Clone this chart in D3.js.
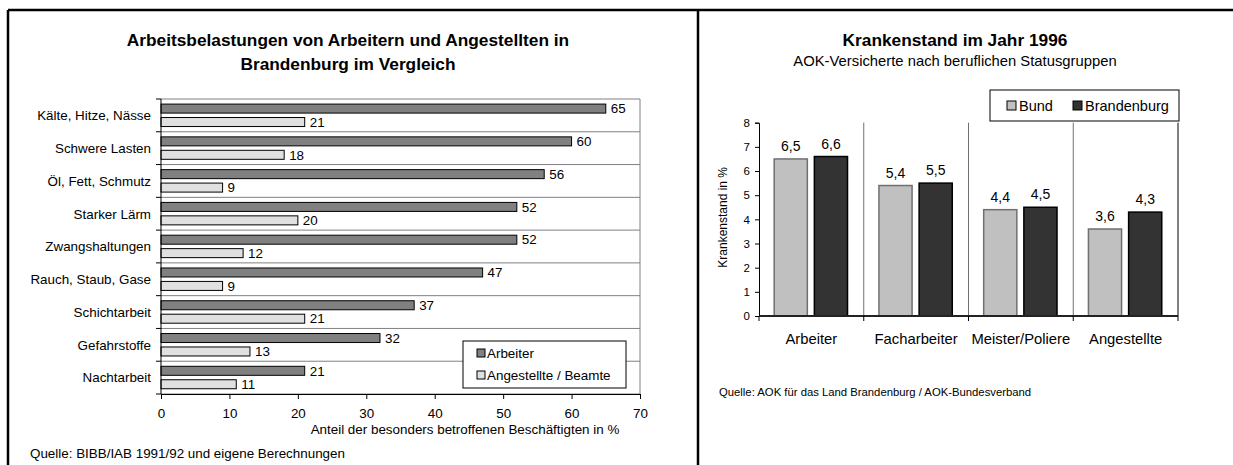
<!DOCTYPE html>
<html>
<head>
<meta charset="utf-8">
<script src="https://cdn.jsdelivr.net/npm/d3@7"></script>
<style>
  html, body { margin: 0; padding: 0; background: #fff; }
  svg { display: block; font-family: "Liberation Sans", Arial, sans-serif; }
</style>
</head>
<body>
<svg id="chart" width="1233" height="465"></svg>
<script>
// ---- Left chart: workload by occupational status ----
const belastungen = ["Kälte, Hitze, Nässe", "Schwere Lasten", "Öl, Fett, Schmutz", "Starker Lärm",
  "Zwangshaltungen", "Rauch, Staub, Gase", "Schichtarbeit", "Gefahrstoffe", "Nachtarbeit"];
const arbeiterWerte = [65, 60, 56, 52, 52, 47, 37, 32, 21];
const angestellteWerte = [21, 18, 9, 20, 12, 9, 21, 13, 11];
const leftSeries = ["Arbeiter", "Angestellte / Beamte"];
const leftTicks = [0, 10, 20, 30, 40, 50, 60, 70];

// ---- Right chart: sick leave 1996 ----
const statusGruppen = ["Arbeiter", "Facharbeiter", "Meister/Poliere", "Angestellte"];
const bundWerte = [6.5, 5.4, 4.4, 3.6];
const brandenburgWerte = [6.6, 5.5, 4.5, 4.3];
const rightSeries = ["Bund", "Brandenburg"];
const rightTicks = [0, 1, 2, 3, 4, 5, 6, 7, 8];

const svg = d3.select("#chart");
const fmtComma = d => d.toFixed(1).replace(".", ",");
const FONT = "Liberation Sans, Arial, sans-serif";

// Outer frame
const frame = svg.append("g").attr("stroke", "#000").attr("stroke-width", 2.5);
frame.append("line").attr("x1", 8).attr("x2", 1233).attr("y1", 10).attr("y2", 10);
frame.append("line").attr("x1", 8).attr("x2", 8).attr("y1", 10).attr("y2", 465);
frame.append("line").attr("x1", 698).attr("x2", 698).attr("y1", 10).attr("y2", 465);

// ================= LEFT CHART =================
{
  const L = { left: 161, right: 640, top: 99, bottom: 394 };
  const fs = 13.4;
  const g = svg.append("g");

  g.append("text").attr("x", 348).attr("y", 46).attr("text-anchor", "middle")
    .attr("font-size", 17.3).attr("font-weight", "bold")
    .text("Arbeitsbelastungen von Arbeitern und Angestellten in");
  g.append("text").attr("x", 348).attr("y", 70).attr("text-anchor", "middle")
    .attr("font-size", 17.3).attr("font-weight", "bold")
    .text("Brandenburg im Vergleich");

  const x = d3.scaleLinear().domain([0, 70]).range([L.left, L.right]);
  const y = d3.scaleBand().domain(belastungen).range([L.top, L.bottom]).padding(0);
  const bw = y.bandwidth();
  const sub = d3.scaleBand().domain(leftSeries).range([bw * 0.155, bw * 0.84]).paddingInner(0.33);
  const colors = { "Arbeiter": "#808080", "Angestellte / Beamte": "#e0e0e0" };

  // category separators
  const bounds = d3.range(belastungen.length + 1).map(i => L.top + i * bw);
  g.selectAll("line.sep").data(bounds).join("line")
    .attr("x1", L.left).attr("x2", L.right).attr("y1", d => d).attr("y2", d => d)
    .attr("stroke", "#808080").attr("stroke-width", 1);
  g.append("line").attr("x1", L.right).attr("x2", L.right).attr("y1", L.top).attr("y2", L.bottom)
    .attr("stroke", "#808080");

  const rows = belastungen.map((c, i) => ({ c, vals: [arbeiterWerte[i], angestellteWerte[i]] }));
  const row = g.selectAll("g.row").data(rows).join("g").attr("transform", d => `translate(0,${y(d.c)})`);
  row.selectAll("rect").data(d => d.vals.map((v, j) => ({ s: leftSeries[j], v }))).join("rect")
    .attr("x", x(0)).attr("y", d => sub(d.s)).attr("width", d => x(d.v) - x(0)).attr("height", sub.bandwidth())
    .attr("fill", d => colors[d.s]).attr("stroke", "#000").attr("stroke-width", 1);
  row.selectAll("text").data(d => d.vals.map((v, j) => ({ s: leftSeries[j], v }))).join("text")
    .attr("x", d => x(d.v) + 5).attr("y", d => sub(d.s) + sub.bandwidth() / 2 + 4.8)
    .attr("font-size", fs).text(d => d.v);

  // left (category) axis
  g.append("line").attr("x1", L.left).attr("x2", L.left).attr("y1", L.top).attr("y2", L.bottom).attr("stroke", "#000");
  g.selectAll("line.yt").data(bounds).join("line")
    .attr("x1", L.left - 5).attr("x2", L.left).attr("y1", d => d).attr("y2", d => d).attr("stroke", "#000");
  g.selectAll("text.cat").data(belastungen).join("text")
    .attr("x", 151).attr("y", d => y(d) + bw / 2 + 4.8).attr("text-anchor", "end")
    .attr("font-size", fs).text(d => d);

  // bottom axis
  const xAxis = d3.axisBottom(x).tickValues(leftTicks).tickSize(5).tickPadding(9.5);
  const ax = g.append("g").attr("transform", `translate(0,${L.bottom})`).call(xAxis);
  ax.select(".domain").attr("stroke", "#000");
  ax.selectAll(".tick line").attr("stroke", "#000");
  ax.selectAll(".tick text").attr("font-size", fs).attr("font-family", FONT).attr("fill", "#000");

  g.append("text").attr("x", 465).attr("y", 434).attr("text-anchor", "middle").attr("font-size", fs)
    .text("Anteil der besonders betroffenen Beschäftigten in %");

  // legend
  const lg = g.append("g").attr("transform", "translate(463,341)");
  lg.append("rect").attr("width", 163).attr("height", 47).attr("fill", "#fff").attr("stroke", "#000");
  leftSeries.forEach((s, i) => {
    lg.append("rect").attr("x", 14).attr("y", 8 + i * 22).attr("width", 8).attr("height", 8)
      .attr("fill", colors[s]).attr("stroke", "#000");
    lg.append("text").attr("x", 24).attr("y", 17 + i * 22).attr("font-size", fs).text(s);
  });

  g.append("text").attr("x", 30).attr("y", 458).attr("font-size", fs)
    .text("Quelle: BIBB/IAB 1991/92 und eigene Berechnungen");
}

// ================= RIGHT CHART =================
{
  const R = { left: 759, right: 1178, top: 122.7, bottom: 316 };
  const g = svg.append("g");

  g.append("text").attr("x", 955).attr("y", 46).attr("text-anchor", "middle")
    .attr("font-size", 17.3).attr("font-weight", "bold").text("Krankenstand im Jahr 1996");
  g.append("text").attr("x", 955).attr("y", 66).attr("text-anchor", "middle")
    .attr("font-size", 14.8).text("AOK-Versicherte nach beruflichen Statusgruppen");

  const x = d3.scaleBand().domain(statusGruppen).range([R.left, R.right]).padding(0);
  const bw = x.bandwidth();
  const sub = d3.scaleBand().domain(rightSeries).range([bw * 0.145, bw * 0.845]).paddingInner(0.175);
  const y = d3.scaleLinear().domain([0, 8]).range([R.bottom, R.top]);
  const fill = { "Bund": "#c0c0c0", "Brandenburg": "#333333" };
  const edge = { "Bund": "#707070", "Brandenburg": "#000" };

  // group separators
  const bounds = d3.range(statusGruppen.length + 1).map(i => R.left + i * bw);
  g.selectAll("line.sep").data(bounds.slice(1)).join("line")
    .attr("x1", d => d).attr("x2", d => d).attr("y1", R.top).attr("y2", R.bottom)
    .attr("stroke", d => d === bounds[bounds.length - 1] ? "#000" : "#707070");

  const groups = statusGruppen.map((c, i) => ({ c, vals: [bundWerte[i], brandenburgWerte[i]] }));
  const grp = g.selectAll("g.grp").data(groups).join("g").attr("transform", d => `translate(${x(d.c)},0)`);
  grp.selectAll("rect").data(d => d.vals.map((v, j) => ({ s: rightSeries[j], v }))).join("rect")
    .attr("x", d => sub(d.s)).attr("y", d => y(d.v)).attr("width", sub.bandwidth())
    .attr("height", d => y(0) - y(d.v)).attr("fill", d => fill[d.s])
    .attr("stroke", d => edge[d.s]).attr("stroke-width", 1.5);
  grp.selectAll("text").data(d => d.vals.map((v, j) => ({ s: rightSeries[j], v }))).join("text")
    .attr("x", d => sub(d.s) + sub.bandwidth() / 2).attr("y", d => y(d.v) - 8)
    .attr("text-anchor", "middle").attr("font-size", 14).text(d => fmtComma(d.v));

  // y axis
  const yAxis = d3.axisLeft(y).tickValues(rightTicks).tickSize(4).tickPadding(5);
  const ay = g.append("g").attr("transform", `translate(${R.left},0)`).call(yAxis);
  ay.select(".domain").attr("stroke", "#000");
  ay.selectAll(".tick line").attr("stroke", "#000");
  ay.selectAll(".tick text").attr("font-size", 11.5).attr("font-family", FONT).attr("fill", "#000");

  // x axis
  g.append("line").attr("x1", R.left).attr("x2", R.right).attr("y1", R.bottom).attr("y2", R.bottom)
    .attr("stroke", "#222").attr("stroke-width", 2);
  g.selectAll("line.xt").data(bounds).join("line")
    .attr("x1", d => d).attr("x2", d => d).attr("y1", R.bottom).attr("y2", R.bottom + 5).attr("stroke", "#000");
  g.selectAll("text.cat").data(statusGruppen).join("text")
    .attr("x", d => x(d) + bw / 2).attr("y", 344).attr("text-anchor", "middle")
    .attr("font-size", 14.8).text(d => d);

  g.append("text").attr("transform", `translate(727,${(R.top + R.bottom) / 2 - 2}) rotate(-90)`)
    .attr("text-anchor", "middle").attr("font-size", 12).text("Krankenstand in %");

  // legend
  const lg = g.append("g").attr("transform", "translate(990,90)");
  lg.append("rect").attr("width", 189).attr("height", 31).attr("fill", "#fff").attr("stroke", "#000");
  [[17, "Bund"], [83, "Brandenburg"]].forEach(([dx, s]) => {
    lg.append("rect").attr("x", dx).attr("y", 11).attr("width", 9).attr("height", 9)
      .attr("fill", fill[s]).attr("stroke", "#000");
    lg.append("text").attr("x", dx + 12).attr("y", 21).attr("font-size", 14.5).text(s);
  });

  g.append("text").attr("x", 719).attr("y", 396).attr("font-size", 11.3)
    .text("Quelle: AOK für das Land Brandenburg / AOK-Bundesverband");
}
</script>
</body>
</html>
